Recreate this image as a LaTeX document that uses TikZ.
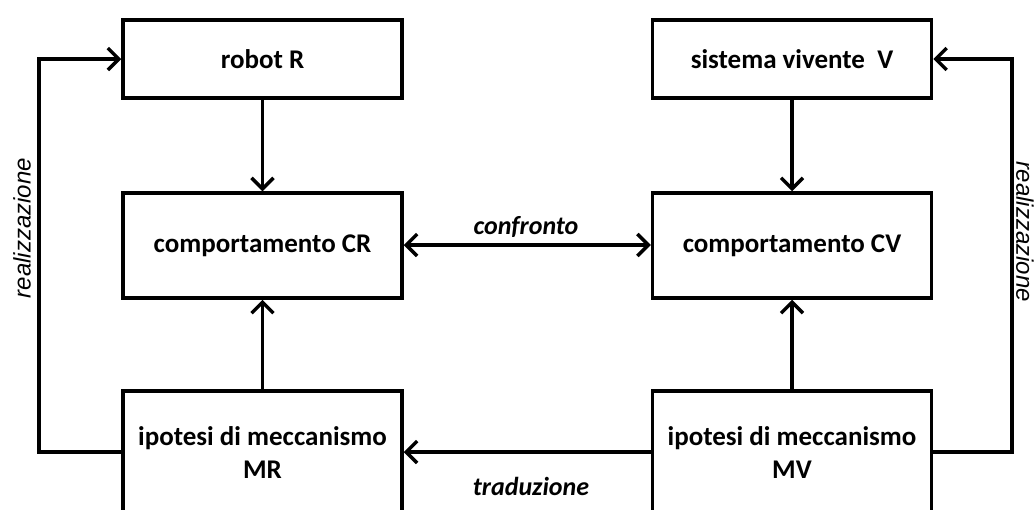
\documentclass[tikz,border=0pt]{standalone}
\usepackage{fontspec}
\setmainfont{Carlito}
\newfontfamily\arialfam{Liberation Sans}
\usetikzlibrary{arrows.meta}
\tikzset{
  box/.style={draw, line width=3.5pt, minimum width=279pt, inner sep=0pt, font=\bfseries\fontsize{27}{31}\selectfont, align=center},
  tip/.tip={Straight Barb[length=11pt,width=22pt,line width=3.5pt]},
  conn/.style={line width=3.5pt, -tip},
  conn2/.style={line width=3.5pt, tip-tip},
  lbl/.style={font=\bfseries\itshape\fontsize{26}{30}\selectfont, inner sep=0pt},
  lblr/.style={inner sep=0pt}
}
\newcommand{\realtext}{{\arialfam\itshape\fontsize{24}{28}\selectfont realizzazione}}
\begin{document}
\begin{tikzpicture}[x=1pt,y=-1pt]
\useasboundingbox (0,0) rectangle (1034,509);
\clip (0,0) rectangle (1034,509);
\node[box, minimum height=78pt] (robot) at (262.5,59) {robot R};
\node[box, minimum height=105pt] (cr) at (262.5,245.5) {comportamento CR};
\node[box, minimum height=124pt] (mr) at (262.5,453) {ipotesi di meccanismo\\[2pt]MR};
\node[box, minimum height=78pt] (v) at (792,59) {sistema vivente\ \ V};
\node[box, minimum height=105pt] (cv) at (792,245.5) {comportamento CV};
\node[box, minimum height=124pt] (mv) at (792,453) {ipotesi di meccanismo\\[2pt]MV};
\coordinate (lc) at (39,452);
\coordinate (rc) at (1012,452);
\draw[conn] (robot) -- (cr);
\draw[conn] (v) -- (cv);
\draw[conn] (mr) -- (cr);
\draw[conn] (mv) -- (cv);
\draw[conn2] (cr.east |- 0,245) -- (cv.west |- 0,245);
\draw[conn] (mv.west |- lc) -- (mr.east |- lc);
\draw[conn] (mr.west |- lc) -- (lc) |- (robot.west);
\draw[conn] (mv.east |- rc) -- (rc) |- (v.east);
\node[lblr, rotate=90] (realL) at (22,228) {\realtext};
\node[lblr, rotate=-90, anchor=north] (realR) at (1034,232) {\realtext};
\node[lbl] (conf) at (526,227) {confronto};
\node[lbl] (trad) at (531,486) {traduzione};
\end{tikzpicture}
\end{document}
